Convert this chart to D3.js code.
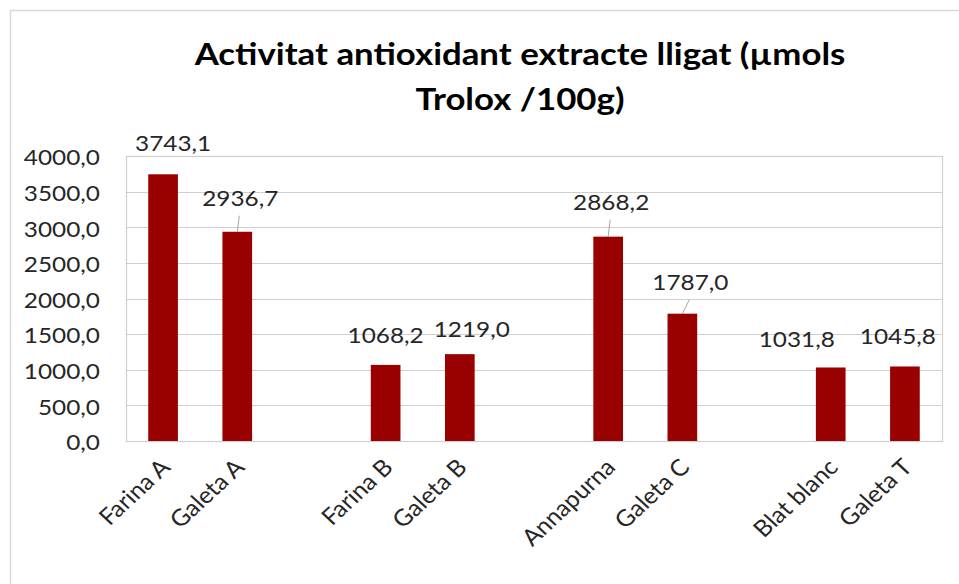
<!DOCTYPE html>
<html>
<head>
<meta charset="utf-8">
<script src="https://cdn.jsdelivr.net/npm/d3@7"></script>
<style>
  html, body { margin: 0; padding: 0; background: #fff; }
  svg { display: block; }
  text { font-family: Lato, "Open Sans", sans-serif; }
</style>
</head>
<body>
<svg id="chart" width="959" height="584"></svg>
<script>
// Samples, grouped in pairs (flour + biscuit); a blank slot separates the pairs
const categories = ["Farina A", "Galeta A", "Farina B", "Galeta B", "Annapurna", "Galeta C", "Blat blanc", "Galeta T"];
const values = [3743.1, 2936.7, 1068.2, 1219.0, 2868.2, 1787.0, 1031.8, 1045.8];
const groupSize = 2;
const yTicks = [0, 500, 1000, 1500, 2000, 2500, 3000, 3500, 4000];
const yMax = 4000;
const titleLines = ["Activitat antioxidant extracte lligat (µmols", "Trolox /100g)"];

// Hand-placed data labels: [dx from bar centre, baseline offset from bar top], and whether a leader line is drawn
const labelNudge = [[10, -23], [3, -26], [0, -22], [12, -17], [3, -27], [8, -24], [-34, -20], [-7, -22]];
const labelLeader = [false, true, false, false, true, true, false, false];

const W = 959, H = 584;
const plot = { left: 126, right: 942, top: 156, bottom: 441 };
const sx = 1.16; // horizontal stretch applied to text

const svg = d3.select("#chart");
const fmt = v => d3.format(".1f")(v).replace(".", ",");

// chart frame
svg.append("rect")
  .attr("x", 10.5).attr("y", 10.5)
  .attr("width", W + 20).attr("height", H + 20)
  .attr("fill", "#fff").attr("stroke", "#d9d9d9").attr("stroke-width", 1.5);

// slot domain: each pair followed by an empty spacer slot (except the last)
const slots = [];
categories.forEach((c, i) => {
  slots.push(c);
  if ((i + 1) % groupSize === 0 && i < categories.length - 1) slots.push("__gap" + i);
});

const x = d3.scaleBand().domain(slots).range([plot.left, plot.right]).paddingInner(0.6).paddingOuter(0.3);
const y = d3.scaleLinear().domain([0, yMax]).range([plot.bottom, plot.top]);

// gridlines
svg.append("g")
  .selectAll("line").data(yTicks).join("line")
  .attr("x1", plot.left).attr("x2", plot.right)
  .attr("y1", d => Math.round(y(d)) + 0.5).attr("y2", d => Math.round(y(d)) + 0.5)
  .attr("stroke", "#cfcfcf").attr("stroke-width", 1.2);

// plot area border
svg.append("rect")
  .attr("x", plot.left + 0.5).attr("y", Math.round(plot.top) + 0.5)
  .attr("width", plot.right - plot.left).attr("height", plot.bottom - plot.top)
  .attr("fill", "none").attr("stroke", "#cfcfcf").attr("stroke-width", 1.2);

// y axis labels
const yAxis = d3.axisLeft(y).tickValues(yTicks).tickFormat(fmt).tickSize(0).tickPadding(0);
const yg = svg.append("g").call(yAxis);
yg.select(".domain").remove();
yg.selectAll(".tick text")
  .attr("x", null).attr("dy", null)
  .attr("text-anchor", "end")
  .attr("dominant-baseline", "central")
  .attr("font-size", 21)
  .attr("fill", "#262626")
  .attr("transform", `translate(100,1) scale(${sx},1)`);

// bars
svg.append("g")
  .selectAll("rect").data(values).join("rect")
  .attr("x", (d, i) => x(categories[i]))
  .attr("width", x.bandwidth())
  .attr("y", d => y(d))
  .attr("height", d => y(0) - y(d))
  .attr("fill", "#990000");

// leader lines
svg.append("g")
  .selectAll("line").data(values.map((v, i) => i).filter(i => labelLeader[i])).join("line")
  .attr("x1", i => x(categories[i]) + x.bandwidth() / 2 + labelNudge[i][0] - 1)
  .attr("y1", i => y(values[i]) + labelNudge[i][1] + 10)
  .attr("x2", i => x(categories[i]) + x.bandwidth() / 2)
  .attr("y2", i => y(values[i]))
  .attr("stroke", "#a6a6a6").attr("stroke-width", 1);

// value labels
svg.append("g")
  .selectAll("text").data(values).join("text")
  .attr("text-anchor", "middle")
  .attr("font-size", 21)
  .attr("fill", "#262626")
  .attr("transform", (d, i) =>
    `translate(${x(categories[i]) + x.bandwidth() / 2 + labelNudge[i][0]},${y(d) + labelNudge[i][1]}) scale(${sx},1)`)
  .text(d => fmt(d));

// x axis category labels
svg.append("g")
  .selectAll("text").data(categories).join("text")
  .attr("text-anchor", "end")
  .attr("font-size", 23)
  .attr("fill", "#262626")
  .attr("dy", "0.72em")
  .attr("transform", d => `translate(${x(d) + x.bandwidth() / 2 - 4},${plot.bottom + 16}) scale(1.08,1) rotate(-45)`)
  .text(d => d);

// title
svg.append("g")
  .selectAll("text").data(titleLines).join("text")
  .attr("text-anchor", "middle")
  .attr("font-size", 30)
  .attr("font-weight", "bold")
  .attr("fill", "#000")
  .attr("transform", (d, i) => `translate(520,${65 + i * 45}) scale(${sx},1)`)
  .text(d => d);
</script>
</body>
</html>
